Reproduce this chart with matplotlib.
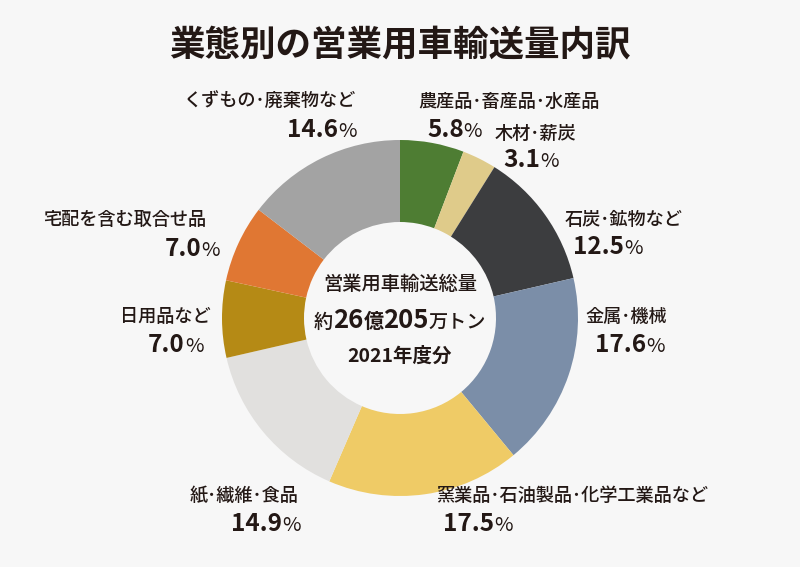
import numpy as np
import matplotlib
matplotlib.use("Agg")
import matplotlib.pyplot as plt

plt.rcParams['font.family'] = ['Noto Sans CJK JP', 'DejaVu Sans']

# data (clockwise from 12 o'clock)
labels = ["農産品･畜産品･水産品", "木材･薪炭", "石炭･鉱物など", "金属･機械",
          "窯業品･石油製品･化学工業品など", "紙･繊維･食品", "日用品など",
          "宅配を含む取合せ品", "くずもの･廃棄物など"]
shares = [5.8, 3.1, 12.5, 17.6, 17.5, 14.9, 7.0, 7.0, 14.6]
colors = ["#4e7d33", "#dfcb8a", "#3c3d3f", "#7b8ea8", "#efcb66",
          "#e1e0de", "#b58a15", "#e07733", "#a3a3a3"]

# label placement in pixel coords (left x of label, baseline y of label, left x of %, baseline y of %)
lab_pos = [(418, 107, 427, 137), (495, 139, 503, 167), (565, 225, 573, 254),
           (585, 322, 595, 352), (436, 501, 443, 531), (190, 501, 231, 531),
           (120, 322, 148, 352), (43, 225, 165, 256), (183, 107, 287, 137)]

bg = "#f7f7f7"
txtc = "#231815"
W, H = 800, 567

fig = plt.figure(figsize=(8, 5.67), dpi=100, facecolor=bg)
ax = fig.add_axes([0, 0, 1, 1])
ax.set_facecolor(bg)

ax.pie(shares, colors=colors, startangle=90, counterclock=False,
       center=(400, H - 318), radius=178, frame=True,
       wedgeprops=dict(width=82, linewidth=0))
ax.set_xlim(0, W)
ax.set_ylim(0, H)
ax.set_aspect('equal')
ax.axis('off')

r = fig.canvas.get_renderer()


def runs(x, y, parts, ha='left'):
    # draw text pieces side by side on one baseline; x,y in pixels from top-left
    ts = []
    widths = []
    for s, size, w in parts:
        t = ax.text(0, H - y, s, fontsize=size, fontweight=w, color=txtc,
                    va='baseline', ha='left')
        widths.append(t.get_window_extent(r).width)
        ts.append(t)
    total = sum(widths)
    if ha == 'center':
        x0 = x - total / 2
    elif ha == 'right':
        x0 = x - total
    else:
        x0 = x
    for t, wd in zip(ts, widths):
        t.set_x(x0)
        x0 += wd


ax.text(400, H - 45, "業態別の営業用車輸送量内訳", fontsize=25.6, fontweight='bold',
        color=txtc, ha='center', va='center')

for lab, v, (lx, ly, px, py) in zip(labels, shares, lab_pos):
    runs(lx, ly, [(lab, 13.1, 'medium')])
    runs(px, py, [(f"{v:.1f}", 17.5, 'bold'), ("%", 14.5, 'normal')])

# center text
runs(400, 290, [("営業用車輸送総量", 13.9, 'medium')], ha='center')
runs(400, 328, [("約", 13.8, 'medium'), ("26", 18.5, 'bold'), ("億", 14.5, 'bold'),
                ("205", 18.5, 'bold'), ("万トン", 13.8, 'medium')], ha='center')
runs(400, 362, [("2021年度分", 14, 'bold')], ha='center')

fig.savefig("out.png", dpi=100, facecolor=bg)
